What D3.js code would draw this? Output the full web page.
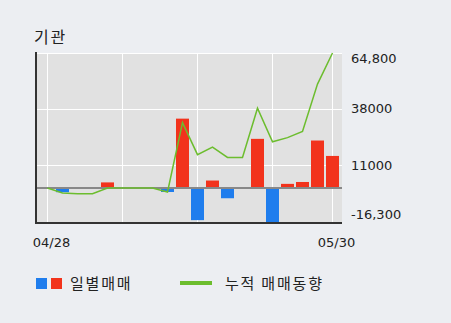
<!DOCTYPE html>
<html>
<head>
<meta charset="utf-8">
<script src="https://cdn.jsdelivr.net/npm/d3@7"></script>
<style>
  html, body { margin: 0; padding: 0; background: #eceef2; }
  svg { display: block; }
  text { font-family: "Noto Sans CJK KR", "DejaVu Sans", sans-serif; fill: #222; }
  text.num { font-family: "DejaVu Sans", sans-serif; }
  text.ko { letter-spacing: 1.8px; }
</style>
</head>
<body>
<div id="chart"></div>
<script>
// trading days shown on the x axis (only first and last are labelled)
var dates = ["04/28", "05/02", "05/03", "05/04", "05/08", "05/09", "05/10", "05/11", "05/12", "05/15",
             "05/16", "05/17", "05/18", "05/19", "05/22", "05/23", "05/24", "05/25", "05/26", "05/30"];
// daily net trading (bars)
var daily = [0, -2000, 0, 0, 2700, 0, 0, 0, -1900, 33300,
             -15400, 3600, -4900, 0, 23600, -16300, 2000, 2900, 22800, 15400];
// cumulative net trading (line)
var cumul = [0, -2400, -2700, -2700, 0, 0, 0, 0, -1900, 31400,
             16000, 19600, 14700, 14700, 38300, 22200, 24200, 27100, 49900, 64800];
var yTicks = [64800, 38000, 11000, -16300];
var yTickLabels = ["64,800", "38000", "11000", "-16,300"];
var xLabelIdx = [0, 19];
var gridIdx = [0, 5, 10, 15, 19];

var W = 451, H = 323;
var plot = { left: 37, right: 342, top: 53, bottom: 222 };

var svg = d3.select("#chart").append("svg")
    .attr("width", W)
    .attr("height", H);

var x = d3.scalePoint()
    .domain(dates)
    .range([47.5, 332.5]);

var y = d3.scaleLinear()
    .domain([-16300, 64800])
    .range([plot.bottom, plot.top]);

var barW = 13;

// plot background
svg.append("rect")
    .attr("x", plot.left)
    .attr("y", plot.top)
    .attr("width", plot.right - plot.left)
    .attr("height", plot.bottom - plot.top)
    .attr("fill", "#e1e1e1");

// grid
svg.selectAll(".hgrid").data(yTicks.slice(0, 3)).enter().append("line")
    .attr("class", "hgrid")
    .attr("x1", plot.left).attr("x2", plot.right)
    .attr("y1", function (d) { return Math.round(y(d)) + 0.5; })
    .attr("y2", function (d) { return Math.round(y(d)) + 0.5; })
    .attr("stroke", "#ffffff").attr("stroke-width", 1);

svg.selectAll(".vgrid").data(gridIdx).enter().append("line")
    .attr("class", "vgrid")
    .attr("x1", function (i) { return Math.round(x(dates[i])) - 0.5; })
    .attr("x2", function (i) { return Math.round(x(dates[i])) - 0.5; })
    .attr("y1", plot.top).attr("y2", plot.bottom)
    .attr("stroke", "#ffffff").attr("stroke-width", 1);

// bars
svg.selectAll(".bar").data(daily).enter().append("rect")
    .attr("class", "bar")
    .attr("x", function (d, i) { return x(dates[i]) - barW / 2; })
    .attr("y", function (d) { return d >= 0 ? y(d) : y(0); })
    .attr("width", barW)
    .attr("height", function (d) { return Math.abs(y(d) - y(0)); })
    .attr("fill", function (d) { return d >= 0 ? "#f2331c" : "#1f7ded"; });

// zero line
svg.append("line")
    .attr("x1", plot.left).attr("x2", plot.right)
    .attr("y1", y(0)).attr("y2", y(0))
    .attr("stroke", "#888888").attr("stroke-width", 2);

// cumulative line
var line = d3.line()
    .x(function (d, i) { return x(dates[i]); })
    .y(function (d) { return y(d); });

svg.append("path")
    .datum(cumul)
    .attr("d", line)
    .attr("fill", "none")
    .attr("stroke", "#6cbd2e")
    .attr("stroke-width", 1.5);

// axes lines
svg.append("line")
    .attr("x1", 36).attr("x2", 36)
    .attr("y1", plot.top - 1).attr("y2", plot.bottom + 2)
    .attr("stroke", "#333").attr("stroke-width", 2);
svg.append("line")
    .attr("x1", 35).attr("x2", plot.right)
    .attr("y1", plot.bottom + 1).attr("y2", plot.bottom + 1)
    .attr("stroke", "#333").attr("stroke-width", 2);

// y labels (end labels are pulled inside the range)
var yLabelShift = [5, 0, 0, -8];
svg.selectAll(".ylab").data(yTicks).enter().append("text")
    .attr("class", "ylab num")
    .attr("x", 351)
    .attr("y", function (d, i) { return y(d) + yLabelShift[i]; })
    .attr("dy", "0.35em")
    .style("font-size", "13px")
    .text(function (d, i) { return yTickLabels[i]; });

// x labels
svg.selectAll(".xlab").data(xLabelIdx).enter().append("text")
    .attr("class", "xlab num")
    .attr("x", function (i) { return x(dates[i]) + 4; })
    .attr("y", 242)
    .attr("dy", "0.35em")
    .attr("text-anchor", "middle")
    .style("font-size", "13px")
    .text(function (i) { return dates[i]; });

// title
svg.append("text")
    .attr("class", "ko")
    .attr("x", 34).attr("y", 43)
    .style("font-size", "16px")
    .text("기관");

// legend
svg.append("rect").attr("x", 36).attr("y", 278).attr("width", 11).attr("height", 11).attr("fill", "#1f7ded");
svg.append("rect").attr("x", 51).attr("y", 278).attr("width", 11).attr("height", 11).attr("fill", "#f2331c");
svg.append("text").attr("class", "ko").attr("x", 70).attr("y", 283.5).attr("dy", "0.35em")
    .style("font-size", "15px").text("일별매매");
svg.append("line").attr("x1", 180).attr("x2", 212).attr("y1", 283).attr("y2", 283)
    .attr("stroke", "#6cbd2e").attr("stroke-width", 4);
svg.append("text").attr("class", "ko").attr("x", 225).attr("y", 283.5).attr("dy", "0.35em")
    .style("font-size", "15px").text("누적 매매동향");
</script>
</body>
</html>
